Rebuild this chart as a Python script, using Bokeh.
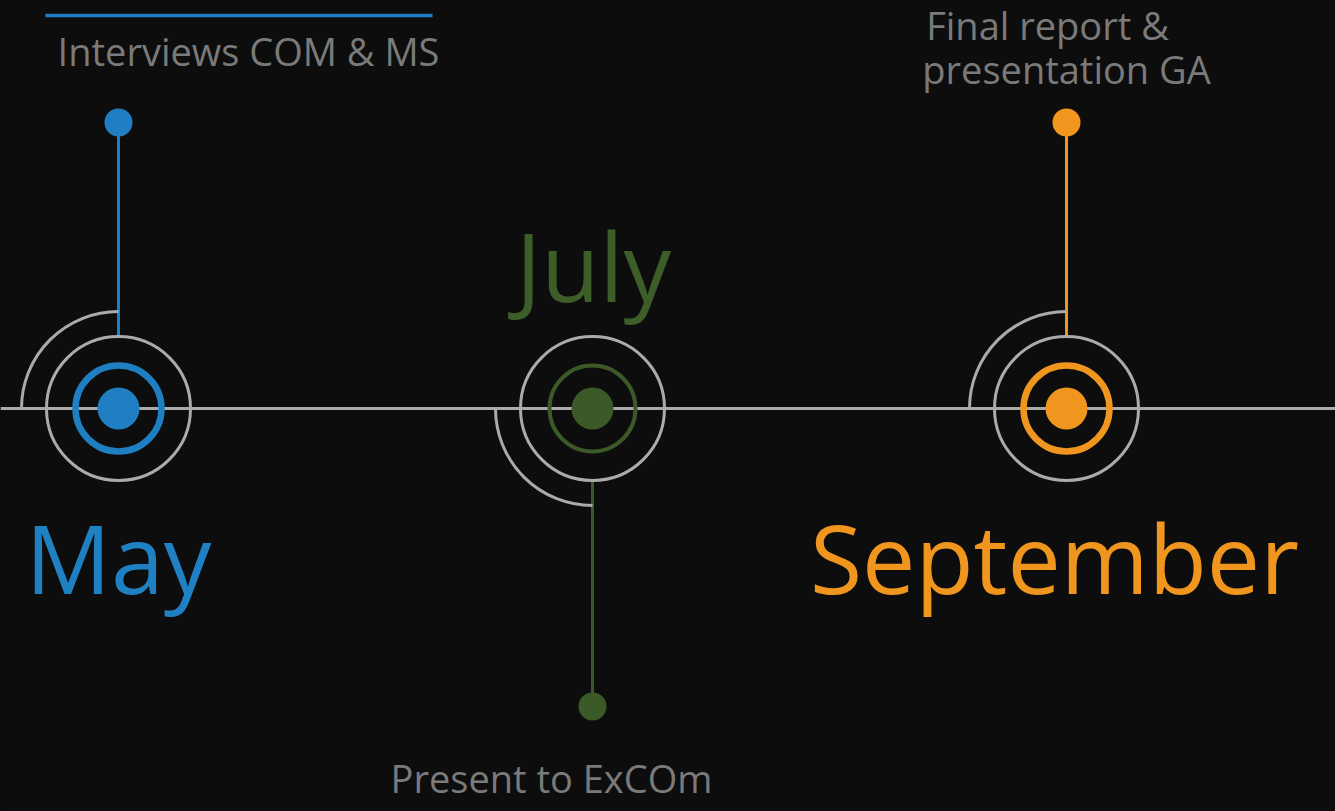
import math
from bokeh.plotting import figure
from bokeh.models import Range1d, ColumnDataSource
from bokeh.embed import file_html
from bokeh.resources import INLINE
from bokeh.core.properties import value

# ---- data ----
months = ["May", "July", "September"]
month_num = [5, 7, 9]
colors = ["#1f7fc2", "#3b5a27", "#f0961f"]
events = ["Interviews COM & MS", "Present to ExCOm", "Final report &\npresentation GA"]
side = [1, -1, 1]          # event above (+1) or below (-1) the timeline
stem_len = [286, 298, 286]  # pin length (px units)

# ---- layout constants ----
BG = "#0d0d0d"
GRAY = "#ababab"
TEXT_GRAY = "#7a7a7a"
FONT = "Open Sans"
W, H = 1335, 811
PX_PER_MONTH = 237.0
x0 = 5 - 118 / PX_PER_MONTH
x1 = x0 + W / PX_PER_MONTH

p = figure(width=W, height=H, output_backend="svg", toolbar_location=None,
           x_range=Range1d(x0, x1), y_range=Range1d(408 - H, 408),
           background_fill_color=BG, border_fill_color=BG,
           min_border=0, outline_line_color=None)
p.axis.visible = False
p.grid.visible = False

# timeline
p.segment(x0=[x0], y0=[0], x1=[x1], y1=[0], line_color=GRAY, line_width=3)

src = ColumnDataSource(dict(
    x=month_num, y0=[0] * 3, color=colors, month=months,
    stem0=[72 * s for s in side], stem1=[l * s for l, s in zip(stem_len, side)],
    arc_start=[math.pi / 2 if s > 0 else math.pi for s in side],
    arc_end=[math.pi if s > 0 else 3 * math.pi / 2 for s in side],
    ring_w=[6.5, 4, 6.5],
))

# stems and pin heads
p.segment(x0="x", y0="stem0", x1="x", y1="stem1", line_color="color", line_width=3, source=src)
p.scatter(x="x", y="stem1", size=28, fill_color="color", line_color=None, source=src)

# gray quarter arcs
p.arc(x="x", y="y0", radius=97, radius_units="screen", start_angle="arc_start",
      end_angle="arc_end", line_color=GRAY, line_width=3, source=src)
# gray circles
p.circle(x="x", y="y0", radius=72, radius_units="screen", fill_color=None,
         line_color=GRAY, line_width=3, source=src)
# coloured rings
p.circle(x="x", y="y0", radius=43, radius_units="screen", fill_color=None,
         line_color="color", line_width="ring_w", source=src)
# centre dots
p.scatter(x="x", y="y0", size=42, fill_color="color", line_color=None, source=src)

# month labels
mlab = ColumnDataSource(dict(x=month_num, y=[-148, 144, -148], text=months,
                             color=["#1f80c3", "#3d5e29", "#f0961f"],
                             xo=[0, 1, -12]))
p.text(x="x", y="y", text="text", x_offset="xo", text_color="color",
       text_font=value(FONT), text_font_size="95px", text_align="center",
       text_baseline="alphabetic", source=mlab)

# event labels (one glyph per text line)
first_baseline = [358, -369, 384]
line_xo = [[130], [-41], [-19, 0]]
LINE_STEP = 44
ex, ey, et, exo = [], [], [], []
for i, ev in enumerate(events):
    for j, line in enumerate(ev.split("\n")):
        ex.append(month_num[i])
        ey.append(first_baseline[i] - j * LINE_STEP)
        et.append(line)
        exo.append(line_xo[i][j])
elab = ColumnDataSource(dict(x=ex, y=ey, text=et, xo=exo))
p.text(x="x", y="y", text="text", x_offset="xo", text_color=TEXT_GRAY,
       text_font=value(FONT), text_font_size="38px", text_align="center",
       text_baseline="alphabetic", source=elab)

# blue accent bar above first event
p.segment(x0=[month_num[0] - 73 / PX_PER_MONTH], y0=[393],
          x1=[month_num[0] + 314 / PX_PER_MONTH], y1=[393],
          line_color=colors[0], line_width=3.5)

html = file_html(p, INLINE)
html = html.replace("<head>", "<head><style>html,body{background:%s;}</style>" % BG, 1)
open("out.html", "w").write(html)
